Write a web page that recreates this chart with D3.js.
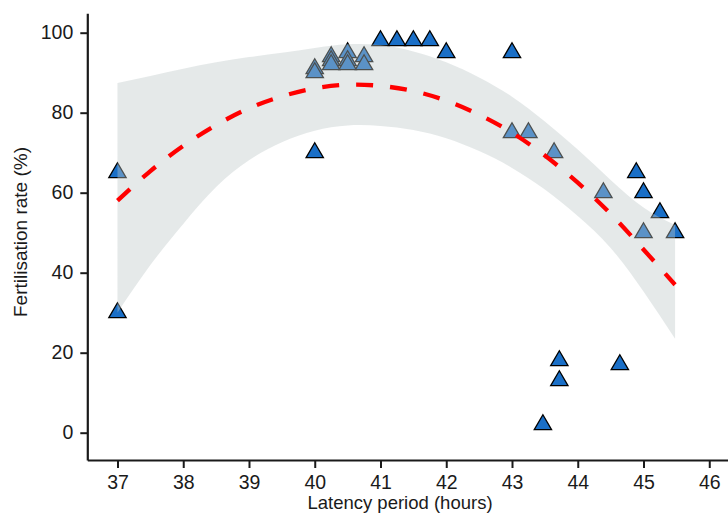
<!DOCTYPE html>
<html>
<head>
<meta charset="utf-8">
<script src="https://cdn.jsdelivr.net/npm/d3@7"></script>
<style>
  html, body { margin: 0; padding: 0; background: #ffffff; }
  svg { display: block; }
  text { font-family: "Liberation Sans", Arial, sans-serif; }
</style>
</head>
<body>
<svg id="chart" width="728" height="513"></svg>
<script>
// ---- data ----
const latency = [37, 37, 40, 40, 40, 40.25, 40.25, 40.25, 40.5, 40.5, 40.5, 40.75, 40.75,
  41, 41.25, 41.5, 41.75, 42, 43, 43, 43.25, 43.47, 43.64, 43.72, 43.72,
  44.39, 44.64, 44.89, 45, 45, 45.25, 45.48];
const fertilisation = [65, 30, 70, 91, 90, 94, 93, 92, 95, 93, 92, 94, 92,
  98, 98, 98, 98, 95, 95, 75, 75, 2, 70, 18, 13,
  60, 17, 65, 60, 50, 55, 50];

const fitX     = [37, 37.5, 38, 38.5, 39, 39.5, 40, 40.5, 41, 41.5, 42, 42.5, 43, 43.5, 44, 44.5, 45, 45.48];
const fitY     = [58.0, 65.4, 71.7, 76.9, 81.1, 84.1, 86.1, 87.0, 86.7, 85.4, 83.0, 79.5, 75.0, 69.3, 62.5, 54.7, 45.8, 37.0];
const ciUpper  = [87.4, 89.2, 91.0, 92.6, 93.9, 95.0, 96.2, 97.1, 96.9, 95.3, 92.6, 88.8, 84.0, 77.8, 70.8, 63.2, 56.3, 51.9];
const ciLower  = [30.0, 41.9, 52.2, 61.4, 68.1, 72.6, 75.5, 76.8, 76.7, 75.7, 73.6, 70.4, 66.2, 60.8, 54.2, 46.2, 35.3, 23.5];

const xTicks = [37, 38, 39, 40, 41, 42, 43, 44, 45, 46];
const yTicks = [0, 20, 40, 60, 80, 100];
const xTitle = "Latency period (hours)";
const yTitle = "Fertilisation rate (%)";

// ---- drawing ----
const svg = d3.select("#chart");
const x = d3.scaleLinear().domain([36.541, 46.285]).range([87.3, 728]);
const y = d3.scaleLinear().domain([-6.825, 104.85]).range([460, 13.3]);

const points = latency.map((v, i) => ({ x: v, y: fertilisation[i] }));
const fit = fitX.map((v, i) => ({ x: v, y: fitY[i], lo: ciLower[i], hi: ciUpper[i] }));

// triangle with its centroid on the data point
const tri = "M0,-10L8.66,5L-8.66,5Z";

svg.append("g").selectAll("path").data(points).join("path")
  .attr("d", tri)
  .attr("transform", d => `translate(${x(d.x)},${y(d.y)})`)
  .attr("fill", "#1a6fc7")
  .attr("stroke", "#000000")
  .attr("stroke-width", 1.3)
  .attr("stroke-linejoin", "miter");

// confidence band drawn over points (semi-transparent)
svg.append("path").datum(fit)
  .attr("d", d3.area().x(d => x(d.x)).y0(d => y(d.lo)).y1(d => y(d.hi)).curve(d3.curveNatural))
  .attr("fill", "rgb(190,200,200)")
  .attr("fill-opacity", 0.4);

// fitted line
svg.append("path").datum(fit)
  .attr("d", d3.line().x(d => x(d.x)).y(d => y(d.y)).curve(d3.curveNatural))
  .attr("fill", "none")
  .attr("stroke", "#ff0000")
  .attr("stroke-width", 4.3)
  .attr("stroke-dasharray", "17,17");

// axes
const axisColor = "#1a1a1a";
const gx = svg.append("g").attr("transform", "translate(0,460)")
  .call(d3.axisBottom(x).tickValues(xTicks).tickFormat(d3.format("d")).tickSize(8).tickSizeOuter(0).tickPadding(7));
const gy = svg.append("g").attr("transform", "translate(87.3,0)")
  .call(d3.axisLeft(y).tickValues(yTicks).tickFormat(d3.format("d")).tickSize(7).tickSizeOuter(0).tickPadding(7));

[gx, gy].forEach(g => {
  g.select(".domain").attr("stroke", axisColor).attr("stroke-width", 2.2);
  g.selectAll(".tick line").attr("stroke", axisColor).attr("stroke-width", 2);
  g.selectAll(".tick text").attr("fill", axisColor).style("font-size", "19.5px")
    .style("font-family", "'Liberation Sans', Arial, sans-serif");
});

svg.append("text")
  .attr("x", 400).attr("y", 509)
  .attr("text-anchor", "middle")
  .attr("fill", axisColor)
  .style("font-size", "18.5px")
  .text(xTitle);

svg.append("text")
  .attr("transform", "translate(27,232) rotate(-90)")
  .attr("text-anchor", "middle")
  .attr("fill", axisColor)
  .style("font-size", "19px")
  .text(yTitle);
</script>
</body>
</html>
